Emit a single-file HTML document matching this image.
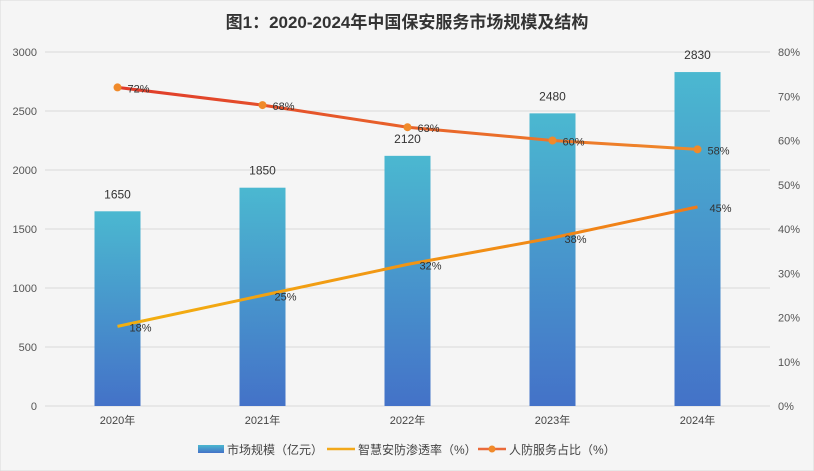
<!DOCTYPE html>
<html><head><meta charset="utf-8"><style>
body{margin:0;background:#f5f5f5;}
svg{display:block;font-family:"Liberation Sans","Noto Sans CJK SC",sans-serif;}
</style></head><body>
<svg id="c" width="814" height="471" viewBox="0 0 814 471">
<defs>
<linearGradient id="bg" x1="0" y1="0" x2="0" y2="1"><stop offset="0" stop-color="#4bb8d0"/><stop offset="1" stop-color="#4472c8"/></linearGradient>
<linearGradient id="rg" x1="0" y1="0" x2="1" y2="0"><stop offset="0" stop-color="#e03a2a"/><stop offset="1" stop-color="#f08a2a"/></linearGradient>
<linearGradient id="yg" x1="0" y1="0" x2="1" y2="0"><stop offset="0" stop-color="#f2b010"/><stop offset="1" stop-color="#f07a18"/></linearGradient>
</defs>
<rect x="0" y="0" width="814" height="471" fill="#f5f5f5" stroke="#d9d9d9"/>
<text x="407" y="28" text-anchor="middle" font-size="17" font-weight="bold" fill="#333">图1：2020-2024年中国保安服务市场规模及结构</text>
<g id="grid"></g><g id="bars"></g><g id="lines"></g><g id="labels"></g>
<g font-size="12" fill="#444">
<rect x="198" y="445" width="26" height="8" fill="url(#bg)"/>
<text x="227" y="454">市场规模（亿元）</text>
<line x1="327" y1="449" x2="355" y2="449" stroke="#f2a81a" stroke-width="2.5"/>
<text x="358" y="454">智慧安防渗透率（%）</text>
<line x1="478" y1="449" x2="506" y2="449" stroke="#ea6a3a" stroke-width="2.5"/>
<circle cx="492" cy="449" r="3.5" fill="#f08a2a"/>
<text x="509" y="454">人防服务占比（%）</text>
</g>
</svg>
<script>
const categories=["2020年","2021年","2022年","2023年","2024年"];
const marketSize=[1650,1850,2120,2480,2830];
const smartRate=[18,25,32,38,45];
const mannedShare=[72,68,63,60,58];
const leftTicks=[0,500,1000,1500,2000,2500,3000];
const rightTicks=[0,10,20,30,40,50,60,70,80];
const NS="http://www.w3.org/2000/svg";
const x0=45,x1=770,yB=406,yT=52;
const xs=i=>x0+(x1-x0)*(i+0.5)/categories.length;
const yL=v=>yB-(yB-yT)*v/3000;
const yR=v=>yB-(yB-yT)*v/80;
function mk(t,a,p,txt){const e=document.createElementNS(NS,t);for(const k in a)e.setAttribute(k,a[k]);if(txt!==undefined)e.textContent=txt;p.appendChild(e);return e;}
const g=document.getElementById('grid'),b=document.getElementById('bars'),l=document.getElementById('lines'),lb=document.getElementById('labels');
leftTicks.forEach(v=>{const ln=mk('line',{x1:x0,x2:x1,y1:yL(v),y2:yL(v),stroke:'#d9d9d9'},g);


const t=mk('text',{x:37,y:yL(v)+4,'text-anchor':'end','font-size':11,fill:'#555'},g,v);

});
rightTicks.forEach(v=>{const t=mk('text',{x:778,y:yR(v)+4,'font-size':11,fill:'#555'},g,v+'%');

});
categories.forEach((c,i)=>{const t=mk('text',{x:xs(i),y:424,'text-anchor':'middle','font-size':11,fill:'#444'},g,c);

});
marketSize.forEach((v,i)=>{const r=mk('rect',{x:xs(i)-23,y:yL(v),width:46,height:yB-yL(v),fill:'url(#bg)'},b);


const t=mk('text',{x:xs(i),y:yL(v)-13,'text-anchor':'middle','font-size':12,fill:'#333'},lb,v);

});
const p1=mk('polyline',{points:smartRate.map((v,i)=>xs(i)+','+yR(v)).join(' '),fill:'none',stroke:'url(#yg)','stroke-width':3},l);


const p2=mk('polyline',{points:mannedShare.map((v,i)=>xs(i)+','+yR(v)).join(' '),fill:'none',stroke:'url(#rg)','stroke-width':3},l);


mannedShare.forEach((v,i)=>{const c=mk('circle',{cx:xs(i),cy:yR(v),r:4,fill:'#f08a2a'},l);


const t=mk('text',{x:xs(i)+10,y:yR(v)+5,'font-size':11,fill:'#333'},lb,v+'%');

});
smartRate.forEach((v,i)=>{const t=mk('text',{x:xs(i)+12,y:yR(v)+5,'font-size':11,fill:'#333'},lb,v+'%');

});
</script>
</body></html>
